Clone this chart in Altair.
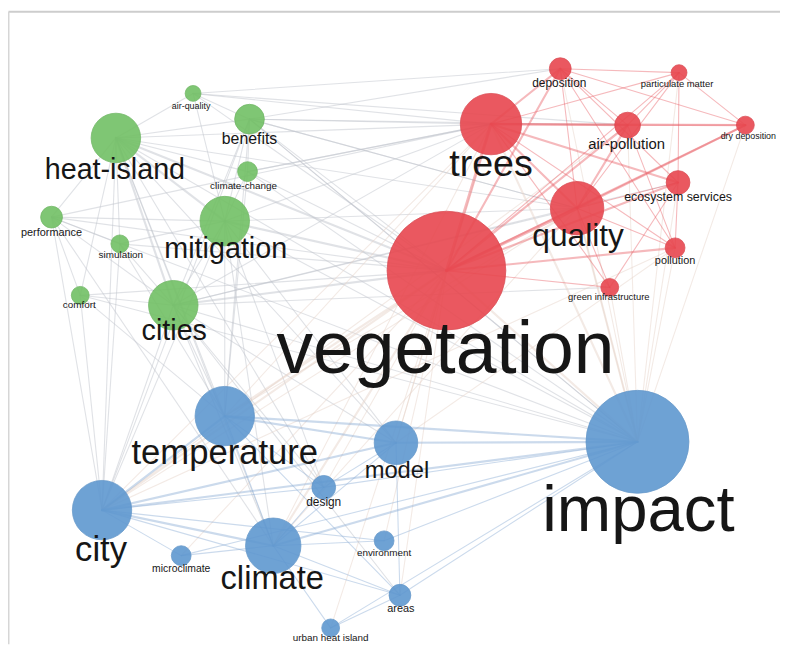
import altair as alt
import pandas as pd

# ---------------- nodes (image pixel space) ----------------
names = ["vegetation", "trees", "quality", "air-pollution", "deposition", "particulate matter",
         "dry deposition", "ecosystem services", "pollution", "green infrastructure",
         "heat-island", "air-quality", "benefits", "climate-change", "mitigation",
         "performance", "simulation", "comfort", "cities",
         "impact", "temperature", "model", "design", "city", "climate", "microclimate",
         "environment", "areas", "urban heat island"]
clusters = ["red"] * 10 + ["green"] * 9 + ["blue"] * 10
node_x = [451, 496, 583, 634, 566, 686, 753, 685, 682, 616,
          117, 195, 252, 250, 227, 52, 121, 81, 175,
          644, 227, 400, 327, 103, 276, 183, 388, 404, 334]
node_y = [270, 122, 207, 123, 66, 70, 123, 181, 247, 287,
          136, 91, 117, 170, 220, 216, 243, 295, 305,
          443, 417, 444, 489, 512, 548, 558, 543, 598, 631]
node_r = [60, 31, 27, 13, 11, 8, 9, 12, 10, 9,
          25, 8, 15, 10, 25, 11, 9, 9, 25,
          52, 30, 22, 12, 30, 28, 10, 10, 11, 9]
label_x = [450, 496, 584, 633, 565, 684, 756, 685, 682, 615,
           116, 193, 252, 246, 228, 52, 122, 80, 176,
           645, 227, 401, 327, 102, 275, 183, 388, 405, 334]
label_y = [373, 174, 245, 147, 85, 85, 137, 200, 263, 300,
           177, 107, 142, 188, 257, 235, 257, 308, 340,
           533, 465, 480, 508, 563, 592, 575, 558, 615, 644]
font_size = [74, 38, 32, 15, 12, 9.5, 9, 12.5, 11, 9.5,
             29, 9, 16, 10, 29, 11, 10, 10, 29,
             66, 35, 24, 12, 35, 33, 10.5, 10, 11, 10]

# ---------------- links: (a, b, strength) ----------------
edges = [
    # red cluster
    ("vegetation", "trees", 3), ("vegetation", "quality", 3), ("vegetation", "air-pollution", 2),
    ("vegetation", "deposition", 2), ("vegetation", "ecosystem services", 2), ("vegetation", "pollution", 2),
    ("vegetation", "green infrastructure", 1), ("vegetation", "dry deposition", 2),
    ("vegetation", "particulate matter", 1),
    ("trees", "quality", 2), ("trees", "air-pollution", 2), ("trees", "deposition", 2),
    ("trees", "dry deposition", 2), ("trees", "particulate matter", 1), ("trees", "ecosystem services", 2),
    ("trees", "pollution", 1), ("trees", "green infrastructure", 1),
    ("quality", "air-pollution", 2), ("quality", "deposition", 1), ("quality", "pollution", 1),
    ("quality", "ecosystem services", 1), ("quality", "dry deposition", 2),
    ("quality", "green infrastructure", 1), ("quality", "particulate matter", 1),
    ("air-pollution", "deposition", 1), ("air-pollution", "particulate matter", 1),
    ("air-pollution", "dry deposition", 1), ("air-pollution", "pollution", 1),
    ("deposition", "particulate matter", 1), ("deposition", "dry deposition", 1),
    ("particulate matter", "dry deposition", 1), ("deposition", "pollution", 1),
    ("deposition", "ecosystem services", 1), ("particulate matter", "ecosystem services", 1),
    ("ecosystem services", "green infrastructure", 1), ("ecosystem services", "pollution", 1),
    # blue cluster
    ("impact", "temperature", 2), ("impact", "model", 2), ("impact", "city", 2), ("impact", "climate", 2),
    ("impact", "design", 1), ("impact", "environment", 1), ("impact", "areas", 1),
    ("impact", "urban heat island", 1), ("impact", "microclimate", 1),
    ("city", "temperature", 2), ("city", "climate", 2), ("city", "model", 2), ("city", "design", 1),
    ("city", "microclimate", 1), ("city", "areas", 1), ("city", "environment", 1),
    ("temperature", "climate", 1), ("temperature", "model", 2), ("temperature", "design", 1),
    ("temperature", "areas", 1),
    ("climate", "model", 1), ("climate", "design", 1), ("climate", "microclimate", 1),
    ("climate", "areas", 1), ("climate", "urban heat island", 1), ("climate", "environment", 1),
    ("model", "design", 1), ("model", "areas", 1), ("areas", "urban heat island", 1),
    # green cluster
    ("heat-island", "mitigation", 2), ("heat-island", "cities", 2), ("heat-island", "benefits", 1),
    ("heat-island", "air-quality", 1), ("heat-island", "performance", 1), ("heat-island", "comfort", 1),
    ("heat-island", "simulation", 1), ("heat-island", "climate-change", 1),
    ("mitigation", "benefits", 1), ("mitigation", "cities", 1), ("mitigation", "climate-change", 1),
    ("mitigation", "air-quality", 1), ("cities", "benefits", 1), ("cities", "performance", 1),
    ("cities", "comfort", 1), ("performance", "comfort", 1), ("performance", "simulation", 1),
    ("benefits", "air-quality", 1), ("benefits", "climate-change", 1),
    ("mitigation", "performance", 1), ("mitigation", "simulation", 1), ("cities", "simulation", 1),
    # between clusters
    ("vegetation", "heat-island", 2), ("vegetation", "mitigation", 2), ("vegetation", "cities", 2),
    ("vegetation", "benefits", 1), ("vegetation", "air-quality", 1), ("vegetation", "climate-change", 1),
    ("vegetation", "performance", 1), ("vegetation", "temperature", 2), ("vegetation", "city", 2),
    ("vegetation", "climate", 2), ("vegetation", "impact", 2), ("vegetation", "model", 1),
    ("vegetation", "design", 1), ("vegetation", "areas", 1), ("vegetation", "microclimate", 1),
    ("vegetation", "comfort", 1), ("vegetation", "simulation", 1), ("vegetation", "environment", 1),
    ("vegetation", "urban heat island", 1),
    ("trees", "heat-island", 1), ("trees", "benefits", 1), ("trees", "mitigation", 1),
    ("trees", "cities", 1), ("trees", "impact", 2), ("trees", "city", 1), ("trees", "temperature", 1),
    ("trees", "climate", 1), ("trees", "air-quality", 1), ("trees", "climate-change", 1),
    ("trees", "performance", 1), ("trees", "model", 1),
    ("quality", "impact", 2), ("quality", "city", 1), ("quality", "mitigation", 1),
    ("quality", "benefits", 1), ("quality", "temperature", 1), ("quality", "heat-island", 1),
    ("quality", "cities", 1), ("quality", "climate", 1),
    ("impact", "heat-island", 1), ("impact", "mitigation", 1), ("impact", "cities", 1),
    ("impact", "benefits", 1), ("impact", "pollution", 1), ("impact", "green infrastructure", 1),
    ("impact", "ecosystem services", 1), ("impact", "air-pollution", 1),
    ("impact", "particulate matter", 1), ("impact", "dry deposition", 1), ("impact", "deposition", 1),
    ("impact", "quality", 1), ("impact", "comfort", 1), ("impact", "performance", 1),
    ("heat-island", "temperature", 1), ("heat-island", "city", 1), ("heat-island", "climate", 1),
    ("heat-island", "model", 1), ("heat-island", "design", 1),
    ("mitigation", "temperature", 1), ("mitigation", "city", 1), ("mitigation", "climate", 1),
    ("mitigation", "model", 1), ("mitigation", "design", 1),
    ("cities", "temperature", 1), ("cities", "city", 1), ("cities", "climate", 1),
    ("cities", "model", 1), ("cities", "areas", 1), ("cities", "design", 1),
    ("performance", "city", 1), ("comfort", "city", 1), ("comfort", "temperature", 1),
    ("simulation", "temperature", 1), ("simulation", "city", 1), ("performance", "climate", 1),
    ("benefits", "air-pollution", 1), ("benefits", "deposition", 1), ("benefits", "quality", 1),
    ("benefits", "temperature", 1), ("benefits", "city", 1),
    ("climate-change", "temperature", 1), ("climate-change", "trees", 1),
    ("air-quality", "air-pollution", 1), ("air-quality", "deposition", 1),
    ("benefits", "impact", 1), ("climate-change", "impact", 1),
    ("pollution", "city", 1), ("green infrastructure", "cities", 1), ("ecosystem services", "cities", 1),
    ("pollution", "model", 1), ("air-pollution", "city", 1),
]

# ---------------- tables ----------------
nodes = pd.DataFrame({"name": names, "cluster": clusters, "x": node_x, "y": node_y,
                      "r": node_r, "lx": label_x, "ly": label_y, "fs": font_size})
pos = {n: (x, y, c) for n, x, y, c in zip(names, node_x, node_y, clusters)}

rows = []
for a, b, w in edges:
    xa, ya, ca = pos[a]
    xb, yb, cb = pos[b]
    if ca == cb == "red":
        kind = "red"
    elif ca == cb == "blue":
        kind = "blue"
    elif {ca, cb} == {"red", "blue"}:
        kind = "mixed"
    else:
        kind = "grey"
    rows.append({"x": xa, "y": ya, "x2": xb, "y2": yb, "w": w, "kind": kind})
links = pd.DataFrame(rows)
order = {"grey": 0, "mixed": 1, "blue": 2, "red": 3}
links["o"] = links["kind"].map(order)
links = links.sort_values("o").reset_index(drop=True)

W, H = 780, 639
xscale = alt.Scale(domain=[8, 788], range=[0, W], nice=False, zero=False)
yscale = alt.Scale(domain=[8, 647], range=[0, H], nice=False, zero=False)
xaxis = alt.Axis(orient="top", title=None, labels=False, ticks=False, grid=False,
                 domain=True, domainColor="#cdcdcd", domainWidth=2)
yaxis = alt.Axis(orient="left", title=None, labels=False, ticks=False, grid=False,
                 domain=True, domainColor="#d6d6d6", domainWidth=2)

edge_layer = alt.Chart(links).mark_rule(strokeCap="round").encode(
    x=alt.X("x:Q", scale=xscale, axis=xaxis),
    y=alt.Y("y:Q", scale=yscale, axis=yaxis),
    x2="x2:Q", y2="y2:Q",
    color=alt.Color("kind:N", legend=None,
                    scale=alt.Scale(domain=["grey", "mixed", "blue", "red"],
                                    range=["#c2c6ce", "#e6d3ca", "#8fb0d6", "#e9636b"])),
    opacity=alt.Opacity("kind:N", legend=None,
                        scale=alt.Scale(domain=["grey", "mixed", "blue", "red"],
                                        range=[0.5, 0.45, 0.6, 0.6])),
    strokeWidth=alt.StrokeWidth("w:Q", legend=None,
                                scale=alt.Scale(domain=[1, 3], range=[1.1, 3.2])),
)

node_layer = alt.Chart(nodes).mark_circle(opacity=0.9, strokeWidth=0.8).encode(
    x=alt.X("x:Q", scale=xscale, axis=xaxis),
    y=alt.Y("y:Q", scale=yscale, axis=yaxis),
    size=alt.Size("r:Q", legend=None,
                  scale=alt.Scale(type="pow", exponent=2, domain=[0, 60], range=[0, 14400])),
    color=alt.Color("cluster:N", legend=None,
                    scale=alt.Scale(domain=["red", "green", "blue"],
                                    range=["#e8474f", "#72c065", "#5f98d0"])),
    stroke=alt.Stroke("cluster:N", legend=None,
                      scale=alt.Scale(domain=["red", "green", "blue"],
                                      range=["#d84048", "#66b25a", "#5a90c6"])),
)

label_layer = alt.Chart(nodes).mark_text(font="Liberation Sans", baseline="alphabetic",
                                          align="center", color="#161616").encode(
    x=alt.X("lx:Q", scale=xscale, axis=xaxis),
    y=alt.Y("ly:Q", scale=yscale, axis=yaxis),
    size=alt.Size("fs:Q", scale=None, legend=None),
    text="name:N",
)

chart = alt.layer(edge_layer, node_layer, label_layer).resolve_scale(
    color="independent", size="independent", opacity="independent",
    stroke="independent", strokeWidth="independent",
).properties(
    width=W, height=H, padding=0, autosize=alt.AutoSizeParams(type="none"),
    background="white",
).configure_view(stroke=None)

chart.save("out.html", embed_options={"renderer": "svg", "actions": False})
